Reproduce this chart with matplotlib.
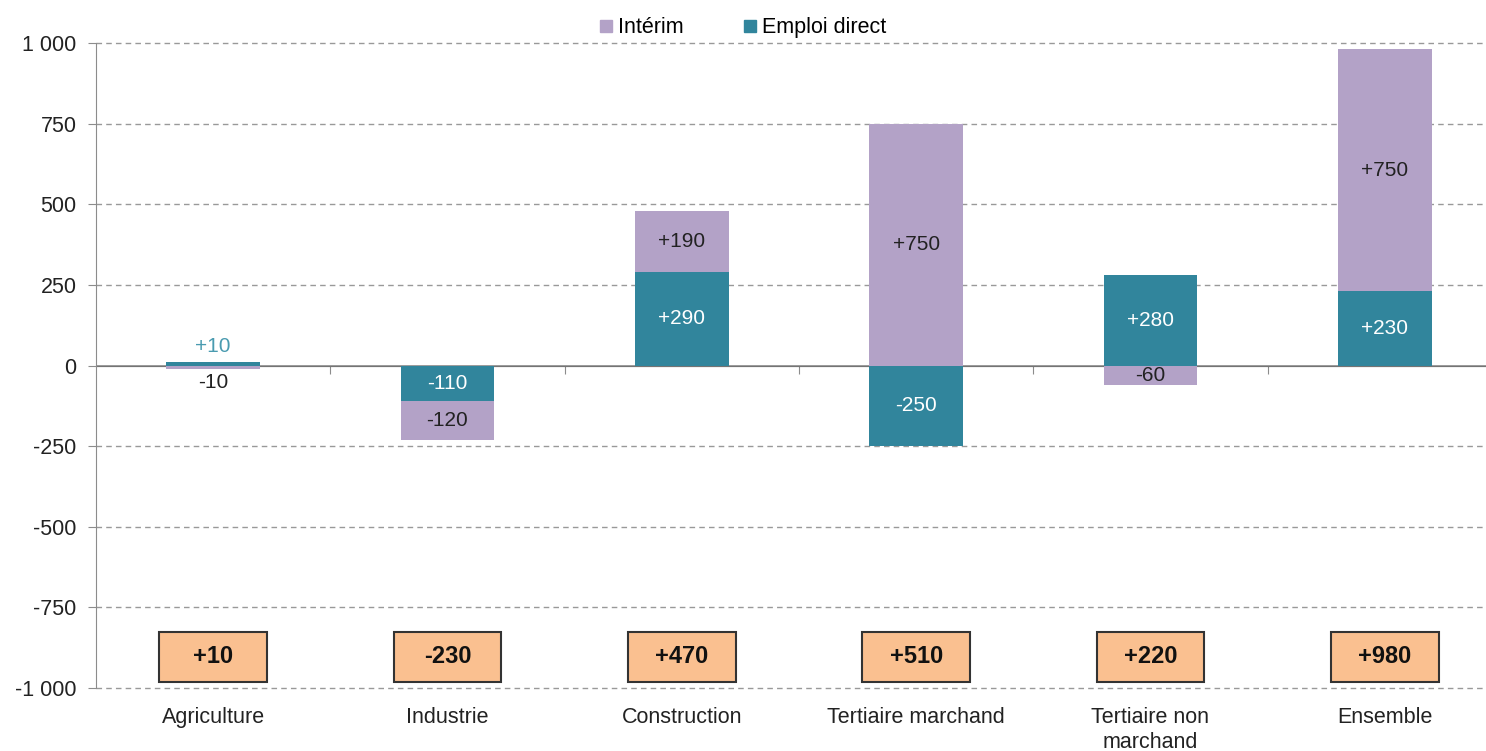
import matplotlib.pyplot as plt
from matplotlib.patches import Rectangle
from matplotlib.lines import Line2D

plt.rcParams['font.family'] = ['Liberation Sans', 'DejaVu Sans']

categories = ['Agriculture', 'Industrie', 'Construction', 'Tertiaire marchand',
              'Tertiaire non\nmarchand', 'Ensemble']
emploi_direct = [10, -110, 290, -250, 280, 230]
interim = [-10, -120, 190, 750, -60, 750]
totals = ['+10', '-230', '+470', '+510', '+220', '+980']

teal = '#31859C'
lav = '#B3A2C7'
grey = '#8c8c8c'

fig = plt.figure(figsize=(14.86, 7.51), dpi=100)
ax = fig.add_axes([0.0646, 0.0839, 1.0 - 0.0646, 0.9427 - 0.0839])

x = list(range(len(categories)))
w = 0.4

# stack positives and negatives separately, direct first
pos = [0] * len(x)
neg = [0] * len(x)
segs = []
for vals, col in [(emploi_direct, teal), (interim, lav)]:
    bottoms = []
    for i, v in enumerate(vals):
        if v >= 0:
            bottoms.append(pos[i])
            pos[i] += v
        else:
            bottoms.append(neg[i])
            neg[i] += v
    ax.bar(x, vals, width=w, bottom=bottoms, color=col, zorder=3)
    segs.append((vals, bottoms, col))

# labels in segments
for vals, bottoms, col in segs:
    for i, v in enumerate(vals):
        yc = bottoms[i] + v / 2
        txt = f'{v:+d}'
        if abs(v) < 50:
            yc += 55 if v > 0 else -48
            c = '#4a9bb0' if col == teal else '#222222'
        else:
            c = 'white' if col == teal else '#222222'
        ax.text(i, yc, txt, ha='center', va='center', fontsize=15, color=c, zorder=5)

# totals in orange boxes
for i, t in enumerate(totals):
    ax.add_patch(Rectangle((i - 0.23, -980), 0.46, 155, facecolor='#FAC090',
                           edgecolor='#333333', lw=1.5, zorder=4))
    ax.text(i, -902, t, ha='center', va='center', fontsize=17, fontweight='bold',
            color='#111111', zorder=5)

yt = list(range(-1000, 1001, 250))
ax.set_ylim(-1000, 1000)
ax.set_xlim(-0.5, 5.5 - 16 / 234.6)
ax.set_yticks(yt)
ax.set_yticklabels([f'{v:,}'.replace(',', ' ') for v in yt])
# dashed grid, except at zero where the axis line sits
for v in yt:
    if v != 0:
        ax.axhline(v, linestyle=(0, (4, 3)), color='#999999', lw=1, zorder=0, clip_on=False)
ax.axhline(0, color=grey, lw=1.2, zorder=2)

ax.set_xticks(x)
ax.set_xticklabels(categories)
ax.tick_params(axis='x', length=0, pad=14, labelsize=15.5, colors='#222222')
ax.tick_params(axis='y', length=6, color=grey, labelsize=15.5, labelcolor='#222222', pad=8)

for s in ['top', 'right', 'bottom']:
    ax.spines[s].set_visible(False)
ax.spines['left'].set_color(grey)

# boundary ticks on the zero line
sec = ax.secondary_xaxis(0.5)
sec.set_xticks([i + 0.5 for i in x[:-1]])
sec.set_xticklabels([])
sec.tick_params(length=6, color=grey, direction='in')
sec.spines['bottom'].set_visible(False)

handles = [Line2D([], [], marker='s', ls='', color=lav, markersize=8),
           Line2D([], [], marker='s', ls='', color=teal, markersize=8)]
fig.legend(handles, ['Intérim', 'Emploi direct'], loc='upper center',
           bbox_to_anchor=(0.5, 1.003), ncol=2, frameon=False, fontsize=15.5,
           handlelength=0.6, handletextpad=0.25, columnspacing=2.8)

fig.savefig('out.png', dpi=100)
